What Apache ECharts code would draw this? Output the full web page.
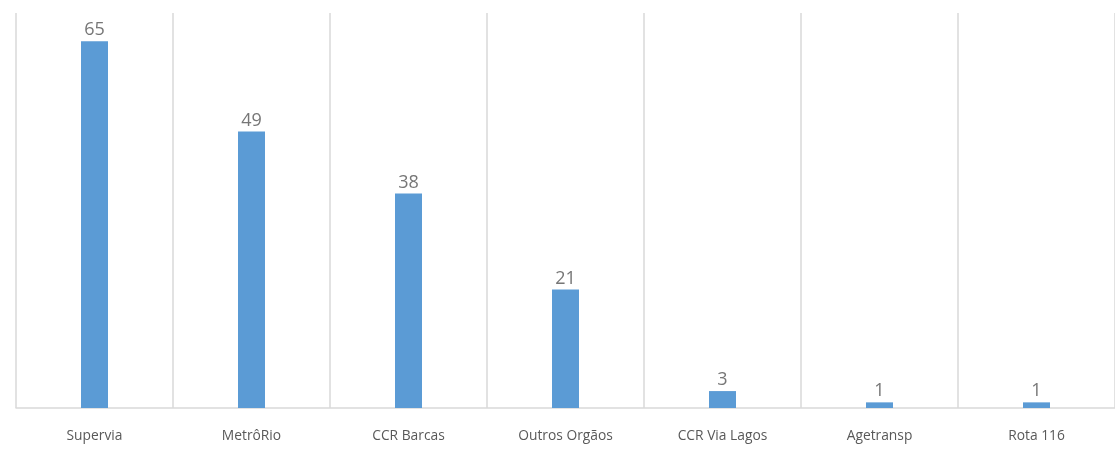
<html>
<head>
<meta charset="utf-8">
<script src="https://cdn.jsdelivr.net/npm/echarts@6/dist/echarts.min.js"></script>
<style>
	body { margin: 0; background: #fff; }
	#chart-main { width: 1115px; height: 464px; }
</style>
</head>
<body>
<div id="chart-main"></div>

<script type="text/javascript">
	// dados do gráfico
	var categorias = ['Supervia', 'MetrôRio', 'CCR Barcas', 'Outros Orgãos', 'CCR Via Lagos', 'Agetransp', 'Rota 116'];
	var valores = [65, 49, 38, 21, 3, 1, 1];

	var myChart = echarts.init(document.getElementById('chart-main'));
	var option = {
		animation: false,
		grid: { left: 16, right: -4, top: 13, bottom: 56 },
		xAxis: {
			type: 'category',
			data: categorias,
			axisLine: { lineStyle: { color: '#d9d9d9', width: 1.5 } },
			axisTick: { show: false },
			splitLine: { show: true, lineStyle: { color: '#d9d9d9', width: 1.5 } },
			axisLabel: {
				color: '#595959',
				fontSize: 13.8,
				fontFamily: 'Open Sans',
				margin: 21
			}
		},
		yAxis: {
			type: 'value',
			min: 0,
			max: 70,
			show: false,
			splitLine: { show: false }
		},
		series: [
			{
				type: 'bar',
				data: valores,
				barWidth: 27,
				itemStyle: { color: '#5b9bd5' },
				label: {
					show: true,
					position: 'top',
					distance: 2,
					color: '#767676',
					fontSize: 18,
					fontFamily: 'Open Sans'
				}
			}
		]
	};
	myChart.setOption(option);
</script>
</body>
</html>
